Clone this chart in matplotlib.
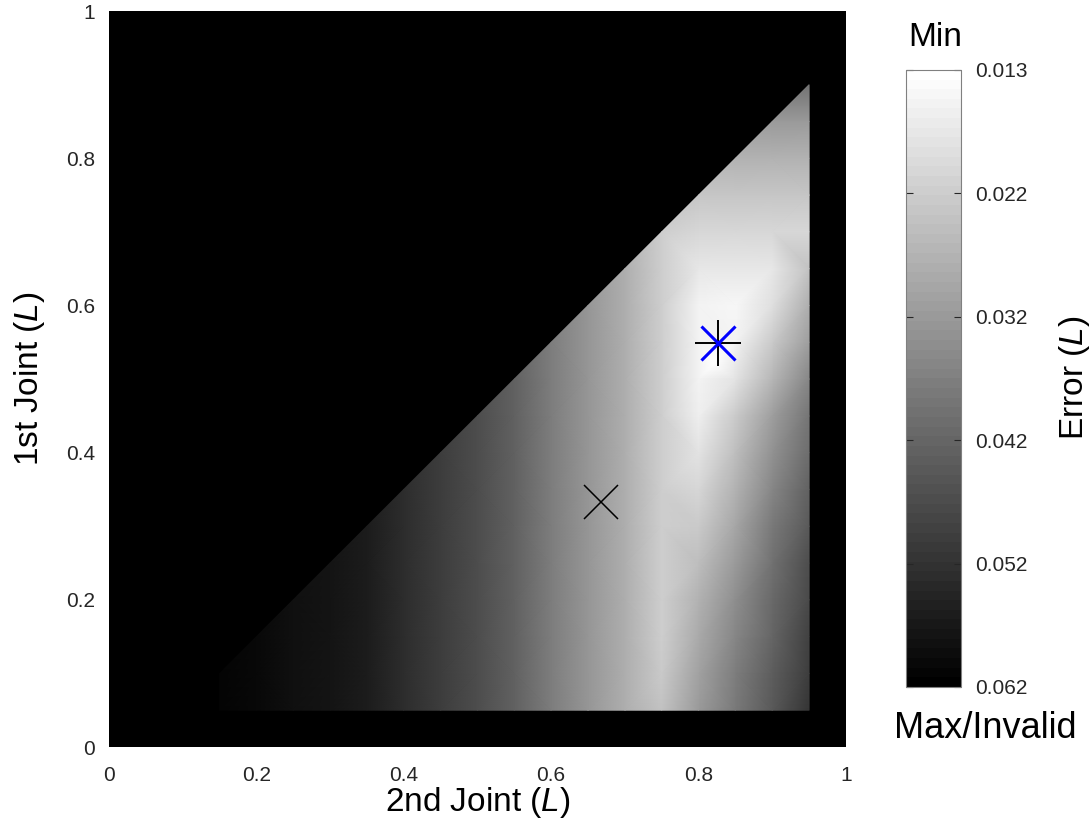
import numpy as np
import matplotlib
matplotlib.use("Agg")
import matplotlib.pyplot as plt
import matplotlib.tri as mtri

plt.rcParams['font.family'] = ['Liberation Sans', 'DejaVu Sans']
plt.rcParams['mathtext.fontset'] = 'custom'
plt.rcParams['mathtext.rm'] = 'Liberation Sans'
plt.rcParams['mathtext.it'] = 'Liberation Sans:italic'

nan = np.nan

joint2_knots = [0.15, 0.20, 0.25, 0.30, 0.35, 0.40, 0.45, 0.50, 0.55,
                0.60, 0.65, 0.70, 0.75, 0.80, 0.85, 0.90, 0.95]
joint1_knots = [0.05, 0.10, 0.15, 0.20, 0.25, 0.30, 0.35, 0.40, 0.45,
                0.50, 0.55, 0.60, 0.65, 0.70, 0.75, 0.80, 0.85, 0.90]

# error, one row per 1st joint value, nan = invalid
error_rows = [
    [0.0609, 0.0596, 0.0588, 0.0576, 0.0561, 0.0532, 0.0499, 0.0468, 0.0431, 0.0377, 0.0328, 0.0280, 0.0241, 0.0319, 0.0387, 0.0445, 0.0512],
    [0.0609, 0.0596, 0.0588, 0.0576, 0.0561, 0.0532, 0.0499, 0.0468, 0.0431, 0.0377, 0.0328, 0.0280, 0.0232, 0.0305, 0.0373, 0.0435, 0.0503],
    [nan, 0.0596, 0.0588, 0.0576, 0.0561, 0.0532, 0.0499, 0.0468, 0.0431, 0.0377, 0.0328, 0.0280, 0.0222, 0.0290, 0.0358, 0.0425, 0.0491],
    [nan, nan, 0.0588, 0.0576, 0.0561, 0.0532, 0.0499, 0.0468, 0.0431, 0.0377, 0.0328, 0.0280, 0.0222, 0.0274, 0.0342, 0.0412, 0.0480],
    [nan, nan, nan, 0.0576, 0.0561, 0.0532, 0.0499, 0.0468, 0.0431, 0.0377, 0.0328, 0.0280, 0.0222, 0.0255, 0.0323, 0.0398, 0.0466],
    [nan, nan, nan, nan, 0.0561, 0.0532, 0.0499, 0.0468, 0.0431, 0.0377, 0.0328, 0.0280, 0.0222, 0.0232, 0.0299, 0.0381, 0.0449],
    [nan, nan, nan, nan, nan, 0.0532, 0.0499, 0.0468, 0.0431, 0.0377, 0.0328, 0.0280, 0.0222, 0.0208, 0.0276, 0.0361, 0.0431],
    [nan, nan, nan, nan, nan, nan, 0.0499, 0.0468, 0.0431, 0.0377, 0.0328, 0.0280, 0.0222, 0.0183, 0.0251, 0.0338, 0.0410],
    [nan, nan, nan, nan, nan, nan, nan, 0.0468, 0.0431, 0.0377, 0.0328, 0.0280, 0.0222, 0.0158, 0.0226, 0.0315, 0.0390],
    [nan, nan, nan, nan, nan, nan, nan, nan, 0.0431, 0.0377, 0.0328, 0.0280, 0.0222, 0.0154, 0.0183, 0.0270, 0.0358],
    [nan, nan, nan, nan, nan, nan, nan, nan, nan, 0.0377, 0.0328, 0.0280, 0.0222, 0.0154, 0.0154, 0.0232, 0.0313],
    [nan, nan, nan, nan, nan, nan, nan, nan, nan, nan, 0.0328, 0.0280, 0.0222, 0.0154, 0.0148, 0.0193, 0.0280],
    [nan, nan, nan, nan, nan, nan, nan, nan, nan, nan, nan, 0.0280, 0.0222, 0.0177, 0.0177, 0.0177, 0.0241],
    [nan, nan, nan, nan, nan, nan, nan, nan, nan, nan, nan, nan, 0.0222, 0.0206, 0.0206, 0.0206, 0.0206],
    [nan, nan, nan, nan, nan, nan, nan, nan, nan, nan, nan, nan, nan, 0.0235, 0.0235, 0.0235, 0.0235],
    [nan, nan, nan, nan, nan, nan, nan, nan, nan, nan, nan, nan, nan, nan, 0.0274, 0.0274, 0.0274],
    [nan, nan, nan, nan, nan, nan, nan, nan, nan, nan, nan, nan, nan, nan, nan, 0.0325, 0.0325],
    [nan, nan, nan, nan, nan, nan, nan, nan, nan, nan, nan, nan, nan, nan, nan, nan, 0.0396],
]

# brightest spot, read separately
spot_joint2 = [0.82]
spot_joint1 = [0.52]
spot_error = [0.0130]

err_min, err_max = 0.0125, 0.0619
cbar_labels = ['0.013', '0.022', '0.032', '0.042', '0.052', '0.062']

start_point = (0.667, 0.333)
best_point = (0.826, 0.549)

gx, gy = np.meshgrid(joint2_knots, joint1_knots)
err = np.array(error_rows)
ok = ~np.isnan(err)
px = np.concatenate([gx[ok], spot_joint2])
py = np.concatenate([gy[ok], spot_joint1])
pv = np.concatenate([err[ok], spot_error])
tri = mtri.Triangulation(px, py)

fig = plt.figure(figsize=(10.92, 8.25), dpi=100)
ax = fig.add_axes([0.0998, 0.0945, 0.6749, 0.8921])
cax = fig.add_axes([0.8297, 0.1673, 0.0504, 0.748])

ax.set_facecolor('black')
cmap = plt.get_cmap('gray_r', 64)
tpc = ax.tripcolor(tri, pv, shading='gouraud', cmap=cmap, vmin=err_min, vmax=err_max)

ax.plot(best_point[0], best_point[1], marker='+', color='k', ms=33, mew=1.4, ls='none')
ax.plot(best_point[0], best_point[1], marker='x', color='b', ms=24, mew=2.2, ls='none')
ax.plot(start_point[0], start_point[1], marker='x', color='k', ms=24, mew=1.1, ls='none')

ax.set_xlim(0, 1)
ax.set_ylim(0, 1)
ticks = [0, 0.2, 0.4, 0.6, 0.8, 1]
ax.set_xticks(ticks)
ax.set_yticks(ticks)
ax.set_xticklabels(['0', '0.2', '0.4', '0.6', '0.8', '1'])
ax.set_yticklabels(['0', '0.2', '0.4', '0.6', '0.8', '1'])
ax.tick_params(direction='in', length=0, labelsize=15, labelcolor='#262626', pad=10)
ax.tick_params(axis='x', pad=14)
for s in ax.spines.values():
    s.set_visible(False)
ax.set_xlabel(r'2nd Joint ($\mathit{L}$)', fontsize=24, labelpad=0)
ax.set_ylabel(r'1st Joint ($\mathit{L}$)', fontsize=24, labelpad=14)

cb = fig.colorbar(tpc, cax=cax)
cb.set_ticks(np.linspace(err_min, err_max, 6))
cb.set_ticklabels(cbar_labels)
cax.invert_yaxis()
cax.tick_params(direction='in', left=True, right=True, length=5, width=0.8,
                labelsize=15, labelcolor='#262626', color='#262626', pad=10)
cb.outline.set_edgecolor('#808080')
cb.outline.set_linewidth(0.8)

fig.text(935 / 1092, 1 - 38 / 825, 'Min', fontsize=24, ha='center', va='center')
fig.text(985 / 1092, 1 - 729 / 825, 'Max/Invalid', fontsize=26, ha='center', va='center')
fig.text(1075 / 1092, 1 - 378 / 825, r'Error ($\mathit{L}$)', fontsize=24,
         rotation=90, ha='center', va='center')

fig.savefig('out.png', dpi=100)
